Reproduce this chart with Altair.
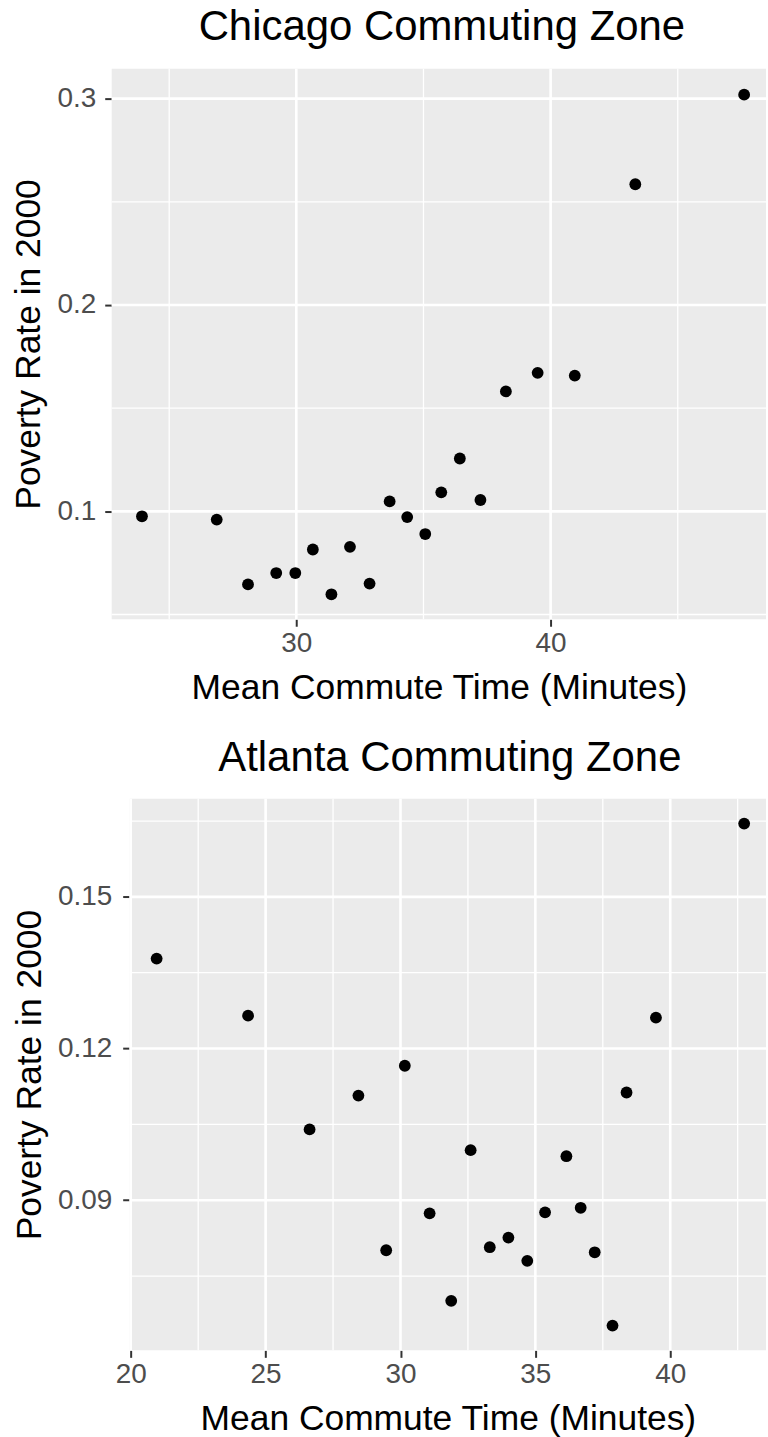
import altair as alt
import pandas as pd

FONT = "Liberation Sans"

# ---- data ----
chi_commute = [23.93, 26.87, 28.10, 29.21, 29.96, 30.65, 31.38, 32.11, 32.88, 33.67,
               34.36, 35.07, 35.70, 36.43, 37.24, 38.24, 39.49, 40.95, 43.33, 47.61]
chi_poverty = [0.0976, 0.0960, 0.0646, 0.0701, 0.0701, 0.0815, 0.0598, 0.0828, 0.0650, 0.1048,
               0.0972, 0.0890, 0.1092, 0.1256, 0.1055, 0.1581, 0.1671, 0.1658, 0.2585, 0.3019]

atl_commute = [20.96, 24.35, 26.63, 28.44, 29.47, 30.16, 31.08, 31.88, 32.60, 33.31,
               34.00, 34.70, 35.36, 36.15, 36.68, 37.20, 37.86, 38.38, 39.47, 42.74]
atl_poverty = [0.1378, 0.1265, 0.1040, 0.1107, 0.0801, 0.1166, 0.0874, 0.0701, 0.0999, 0.0807,
               0.0826, 0.0780, 0.0876, 0.0987, 0.0885, 0.0797, 0.0652, 0.1113, 0.1261, 0.1645]

# axis breaks and limits
chi_x_major = [30, 40]
chi_x_minor = [25, 35, 45]
chi_y_major = [0.1, 0.2, 0.3]
chi_y_minor = [0.05, 0.15, 0.25]
chi_x_domain = [22.74, 48.47]
chi_y_domain = [0.0477, 0.3145]

atl_x_major = [20, 25, 30, 35, 40]
atl_x_minor = [22.5, 27.5, 32.5, 37.5, 42.5]
atl_y_major = [0.09, 0.12, 0.15]
atl_y_minor = [0.075, 0.105, 0.135, 0.165]
atl_x_domain = [19.96, 43.55]
atl_y_domain = [0.0603, 0.1694]

X_TITLE = "Mean Commute Time (Minutes)"
Y_TITLE = "Poverty Rate in 2000"

PANEL_W = 656
SHIFT = 18  # the Atlanta panel starts further right (wider y labels)


def axis(values, title, fmt, label_pad, title_pad, offset=0):
    return alt.Axis(
        values=values, format=fmt, title=title,
        grid=False, domain=False, offset=offset,
        ticks=True, tickColor="#333333", tickWidth=2, tickSize=7,
        labelFont=FONT, labelFontSize=28, labelColor="#4D4D4D",
        labelPadding=label_pad, labelFlush=False, labelOverlap=False,
        titleFont=FONT, titleFontSize=35.5, titleFontWeight="normal",
        titleColor="black", titlePadding=title_pad,
    )


def panel(title, xs, ys, xdom, ydom, xmaj, xmin, ymaj, ymin, h, yfmt, ylabpad, shift, title_dx):
    df = pd.DataFrame({"commute": xs, "poverty": ys})
    xsc = alt.Scale(domain=xdom, nice=False, zero=False, range=[shift, PANEL_W])
    ysc = alt.Scale(domain=ydom, nice=False, zero=False)
    xax = axis(xmaj, X_TITLE, "d", 3, 13)
    yax = axis(ymaj, Y_TITLE, yfmt, ylabpad, 10, offset=-shift)

    bg = alt.Chart(pd.DataFrame({"x0": [xdom[0]], "x1": [xdom[1]],
                                 "y0": [ydom[0]], "y1": [ydom[1]]})).mark_rect(
        color="#EBEBEB"
    ).encode(
        x=alt.X("x0:Q", scale=xsc, axis=xax), x2="x1:Q",
        y=alt.Y("y0:Q", scale=ysc, axis=yax), y2="y1:Q",
    )

    def vlines(vals, width):
        d = pd.DataFrame({"gx": vals, "ya": [ydom[0]] * len(vals), "yb": [ydom[1]] * len(vals)})
        return alt.Chart(d).mark_rule(color="white", strokeWidth=width).encode(
            x=alt.X("gx:Q", scale=xsc, axis=xax),
            y=alt.Y("ya:Q", scale=ysc, axis=yax), y2="yb:Q",
        )

    def hlines(vals, width):
        d = pd.DataFrame({"gy": vals, "xa": [xdom[0]] * len(vals), "xb": [xdom[1]] * len(vals)})
        return alt.Chart(d).mark_rule(color="white", strokeWidth=width).encode(
            y=alt.Y("gy:Q", scale=ysc, axis=yax),
            x=alt.X("xa:Q", scale=xsc, axis=xax), x2="xb:Q",
        )

    pts = alt.Chart(df).mark_circle(size=140, color="black", opacity=1).encode(
        x=alt.X("commute:Q", scale=xsc, axis=xax),
        y=alt.Y("poverty:Q", scale=ysc, axis=yax),
    )
    return alt.layer(
        bg, vlines(xmin, 1.3), hlines(ymin, 1.3), vlines(xmaj, 2.6), hlines(ymaj, 2.6), pts
    ).properties(
        width=PANEL_W, height=h,
        title=alt.TitleParams(
            text=title, font=FONT, fontSize=42, fontWeight="normal", color="black",
            anchor="middle", frame="group", offset=18, dx=title_dx,
        ),
    )


chi = panel("Chicago Commuting Zone", chi_commute, chi_poverty, chi_x_domain, chi_y_domain,
            chi_x_major, chi_x_minor, chi_y_major, chi_y_minor, 552, ".1f", 9, 0, 3)
atl = panel("Atlanta Commuting Zone", atl_commute, atl_poverty, atl_x_domain, atl_y_domain,
            atl_x_major, atl_x_minor, atl_y_major, atl_y_minor, 553, ".2f", 11, SHIFT, 2 + SHIFT / 2)

chart = alt.vconcat(chi, atl, spacing=30).properties(
    padding={"left": 12, "top": 4, "right": 0, "bottom": 0},
    background="white",
).configure_view(stroke=None)

chart.save("out.html", embed_options={"renderer": "svg", "actions": False})
